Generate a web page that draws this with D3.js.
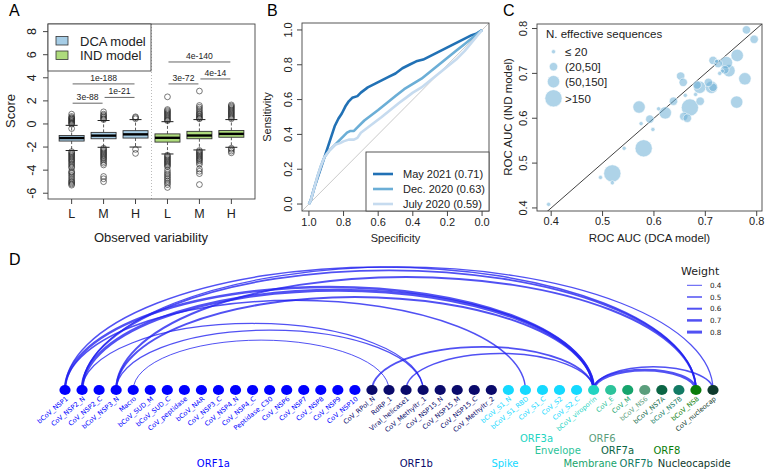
<!DOCTYPE html>
<html><head><meta charset="utf-8">
<script src="https://cdn.jsdelivr.net/npm/d3@7"></script>
<style>body{margin:0;background:#fff}svg{display:block}</style>
</head><body>
<svg id="c" width="767" height="469"></svg>
<script>
// ---------------- DATA ----------------
// Panel A: boxplots
const boxCats = ["L","M","H","L","M","H"];
const boxModel = ["DCA","DCA","DCA","IND","IND","IND"];
const boxQ1 = [-1.48,-1.28,-1.22,-1.57,-1.28,-1.15];
const boxMed = [-1.22,-1.01,-0.90,-1.20,-1.00,-0.86];
const boxQ3 = [-1.00,-0.73,-0.58,-0.86,-0.64,-0.57];
const whiskLo = [-2.30,-2.02,-2.00,-2.60,-2.25,-2.02];
const whiskHi = [-0.12,0.30,0.38,0.20,0.38,0.38];
const outliers = [
  [0.85,0.65,0.55,0.5,0.42,0.35,0.28,0.2,0.12,0.05,-0.02,-0.4,-2.4,-2.5,-2.6,-2.7,-2.8,-2.9,-3.0,-3.1,-3.2,-3.3,-3.45,-3.55,-3.7,-3.8,-4.1,-4.2,-4.3,-4.45,-4.6,-4.75,-4.9,-5.0,-5.1,-5.2,-5.3],
  [1.05,0.85,0.75,0.65,0.55,0.45,0.38,-2.1,-2.2,-2.3,-2.4,-2.5,-2.6,-2.7,-2.8,-2.9,-3.0,-3.1,-3.25,-3.4,-3.55,-4.55,-4.75,-5.0],
  [0.45,0.55,0.62,-2.2,-2.55],
  [2.35,1.25,1.15,1.05,0.95,0.85,0.75,0.65,0.55,0.45,0.35,0.28,-2.7,-2.8,-2.9,-3.0,-3.1,-3.2,-3.3,-3.4,-3.5,-3.6,-3.7,-4.0,-4.2,-4.35,-4.5,-4.65,-4.8,-4.95,-5.1,-5.25,-5.5],
  [2.85,1.6,1.45,1.3,1.15,1.0,0.9,0.8,0.7,0.6,0.5,0.45,-2.3,-2.4,-2.5,-2.6,-2.7,-2.8,-2.9,-3.0,-3.1,-3.2,-3.35,-3.5,-3.9,-4.1,-4.3,-5.25],
  [1.65,1.55,1.45,1.35,1.25,1.15,1.05,0.95,0.85,0.75,0.65,0.55,0.45,-2.1,-2.2,-2.35,-2.5]
];
const sigFrom = [1,1,2,4,4,5];
const sigTo   = [3,2,3,6,5,6];
const sigY    = [3.47,1.8,2.3,5.37,3.47,3.9];
const sigLabel= ["1e-188","3e-88","1e-21","4e-140","3e-72","4e-14"];
const scoreTicks = [-6,-4,-2,0,2,4,6,8];

// Panel B: ROC curves
const rocNames = ["May 2021 (0.71)","Dec. 2020 (0.63)","July 2020 (0.59)"];
const rocSpec = [
  [1,0.99,0.97,0.95,0.93,0.91,0.89,0.87,0.85,0.83,0.81,0.79,0.77,0.75,0.72,0.70,0.66,0.62,0.58,0.54,0.50,0.46,0.42,0.38,0.34,0.30,0.26,0.22,0.18,0.14,0.10,0.06,0.03,0],
  [1,0.99,0.97,0.95,0.93,0.91,0.88,0.85,0.82,0.80,0.78,0.76,0.74,0.72,0.68,0.64,0.60,0.55,0.50,0.45,0.40,0.35,0.30,0.25,0.20,0.15,0.10,0.05,0],
  [1,0.99,0.97,0.95,0.93,0.91,0.88,0.85,0.82,0.80,0.77,0.74,0.72,0.70,0.66,0.62,0.58,0.53,0.48,0.44,0.40,0.35,0.30,0.25,0.20,0.15,0.10,0.05,0]
];
const rocSens = [
  [0,0.02,0.09,0.15,0.21,0.27,0.33,0.39,0.45,0.49,0.52,0.56,0.59,0.61,0.62,0.64,0.67,0.69,0.71,0.73,0.75,0.78,0.80,0.82,0.83,0.85,0.87,0.89,0.91,0.93,0.95,0.97,0.98,1],
  [0,0.02,0.09,0.16,0.22,0.27,0.31,0.34,0.37,0.39,0.41,0.42,0.42,0.44,0.48,0.51,0.54,0.58,0.62,0.66,0.69,0.72,0.76,0.80,0.84,0.88,0.92,0.96,1],
  [0,0.02,0.09,0.16,0.22,0.27,0.31,0.34,0.35,0.36,0.37,0.37,0.38,0.41,0.44,0.47,0.50,0.54,0.58,0.61,0.64,0.67,0.71,0.75,0.79,0.83,0.88,0.94,1]
];
const rocColors = ["#2171b5","#6baed6","#c6dbef"];
const unitTicks = [0,0.2,0.4,0.6,0.8,1.0];

// Panel C: bubbles
const aucDCA = [0.395,0.496,0.519,0.519,0.542,0.580,0.575,0.598,0.571,0.592,0.609,0.622,0.638,0.652,0.657,0.661,0.658,0.665,0.670,0.681,0.684,0.689,0.690,0.712,0.715,0.715,0.722,0.725,0.733,0.738,0.746,0.741,0.762,0.777,0.761,0.780,0.795,0.706,0.728];
const aucIND = [0.408,0.468,0.477,0.456,0.533,0.533,0.588,0.575,0.625,0.598,0.621,0.612,0.638,0.694,0.680,0.651,0.604,0.600,0.624,0.653,0.674,0.669,0.638,0.669,0.669,0.729,0.727,0.722,0.705,0.708,0.706,0.724,0.740,0.688,0.636,0.797,0.776,0.680,0.700];
const neffClass = [0,0,3,0,0,3,0,0,2,1,0,2,1,1,1,0,1,1,3,0,1,2,1,2,1,1,0,1,0,1,2,2,2,2,2,1,1,1,0];
const neffLabels = ["\u2264 20","(20,50]","(50,150]",">150"];
const aucXTicks = [0.4,0.5,0.6,0.7,0.8];
const aucYTicks = [0.4,0.5,0.6,0.7,0.8];

// Panel D: arc diagram
const domains = ["bCoV_NSP1","CoV_NSP2_N","CoV_NSP2_C","bCoV_NSP3_N","Macro","bCoV_SUD_M","bCoV_SUD_C","CoV_peptidase","bCoV_NAR","CoV_NSP3_C","CoV_NSP4_N","CoV_NSP4_C","Peptidase_C30","CoV_NSP6","CoV_NSP7","CoV_NSP8","CoV_NSP9","CoV_NSP10","CoV_RPol_N","RdRP_1","Viral_helicase1","CoV_Methyltr_1","CoV_NSP15_N","CoV_NSP15_M","CoV_NSP15_C","CoV_Methyltr_2","bCoV_S1_N","bCoV_S1_RBD","CoV_S1_C","CoV_S2","CoV_S2_C","bCoV_viroporin","CoV_E","CoV_M","bCoV_NS6","bCoV_NS7A","bCoV_NS7B","bCoV_NS8","CoV_nucleocap"];
const domainGroup = ["ORF1a","ORF1a","ORF1a","ORF1a","ORF1a","ORF1a","ORF1a","ORF1a","ORF1a","ORF1a","ORF1a","ORF1a","ORF1a","ORF1a","ORF1a","ORF1a","ORF1a","ORF1a","ORF1b","ORF1b","ORF1b","ORF1b","ORF1b","ORF1b","ORF1b","ORF1b","Spike","Spike","Spike","Spike","Spike","ORF3a","Envelope","Membrane","ORF6","ORF7a","ORF7b","ORF8","Nucleocapside"];
const groups = ["ORF1a","ORF1b","Spike","ORF3a","Envelope","Membrane","ORF6","ORF7a","ORF7b","ORF8","Nucleocapside"];
const groupColors = ["#0000ff","#0a0a6b","#14d9ff","#22d4c2","#2cc39a","#16a46c","#5b9e7c","#0b6544","#137a64","#0a7d0a","#0f3a2c"];
const edgeFrom = ["bCoV_NSP1","CoV_NSP2_N","bCoV_NSP3_N","bCoV_NSP1","CoV_NSP2_N","bCoV_NSP3_N","bCoV_NSP1","CoV_NSP2_N","bCoV_NSP3_N","Macro","CoV_RPol_N","Viral_helicase1","bCoV_viroporin","bCoV_viroporin","CoV_NSP2_N"];
const edgeTo   = ["bCoV_NS8","bCoV_NS8","bCoV_NS8","bCoV_viroporin","bCoV_viroporin","bCoV_viroporin","bCoV_S1_RBD","CoV_Methyltr_1","CoV_Methyltr_1","RdRP_1","bCoV_viroporin","bCoV_viroporin","bCoV_NS8","CoV_nucleocap","CoV_nucleocap"];
const edgeWeight=[0.5,0.55,0.6,0.7,0.8,0.6,0.5,0.45,0.45,0.4,0.55,0.5,0.75,0.5,0.45];
const weightTicks = [0.4,0.5,0.6,0.7,0.8];

// group label placement (fractional node index, text row)
const groupLabelIdx = [8.7,20.6,25.8,27.65,28.9,30.8,31.5,32.4,33.5,35.3,36.9];
const groupLabelRow = [3,3,3,1,2,3,1,2,3,2,3];

// ---------------- DRAW ----------------
const svg = d3.select("#c");
svg.append("rect").attr("width",767).attr("height",469).attr("fill","#fff");
const RF = "'Liberation Sans', Arial, Helvetica, sans-serif";

function panelLetter(t,x,y){ svg.append("text").attr("x",x).attr("y",y).attr("font-family",RF).attr("font-size",16).attr("fill","#000").text(t); }

// ===== Panel A =====
(function(){
  const L=48,R=255,T=24,B=199;
  const x=d3.scaleLinear().domain([0.26,6.74]).range([L,R]);
  const y=d3.scaleLinear().domain([-6.5,8.66]).range([B,T]);
  const g=svg.append("g");
  // dotted separator
  g.append("line").attr("x1",x(3.5)).attr("x2",x(3.5)).attr("y1",T).attr("y2",B).attr("stroke","#aaa").attr("stroke-dasharray","1,2").attr("stroke-width",0.8);
  const bw=25, cw=12;
  boxCats.forEach((c,i)=>{
    const cx=x(i+1);
    const fill= boxModel[i]==="DCA" ? "#a6cde6" : "#aedb7c";
    // whiskers
    g.append("line").attr("x1",cx).attr("x2",cx).attr("y1",y(boxQ3[i])).attr("y2",y(whiskHi[i])).attr("stroke","#333").attr("stroke-dasharray","3,2").attr("stroke-width",0.8);
    g.append("line").attr("x1",cx).attr("x2",cx).attr("y1",y(boxQ1[i])).attr("y2",y(whiskLo[i])).attr("stroke","#333").attr("stroke-dasharray","3,2").attr("stroke-width",0.8);
    g.append("line").attr("x1",cx-cw/2).attr("x2",cx+cw/2).attr("y1",y(whiskHi[i])).attr("y2",y(whiskHi[i])).attr("stroke","#222").attr("stroke-width",1);
    g.append("line").attr("x1",cx-cw/2).attr("x2",cx+cw/2).attr("y1",y(whiskLo[i])).attr("y2",y(whiskLo[i])).attr("stroke","#222").attr("stroke-width",1);
    g.append("rect").attr("x",cx-bw/2).attr("y",y(boxQ3[i])).attr("width",bw).attr("height",y(boxQ1[i])-y(boxQ3[i])).attr("fill",fill).attr("stroke","#333").attr("stroke-width",0.9);
    g.append("line").attr("x1",cx-bw/2).attr("x2",cx+bw/2).attr("y1",y(boxMed[i])).attr("y2",y(boxMed[i])).attr("stroke","#000").attr("stroke-width",2.4);
    g.selectAll(null).data(outliers[i]).enter().append("circle").attr("cx",cx).attr("cy",d=>y(d)).attr("r",2.9).attr("fill","none").attr("stroke","#222").attr("stroke-width",0.6);
  });
  // significance brackets
  sigLabel.forEach((s,i)=>{
    const x1=x(sigFrom[i])+1, x2=x(sigTo[i])-1, yy=y(sigY[i]);
    g.append("line").attr("x1",x1).attr("x2",x2).attr("y1",yy).attr("y2",yy).attr("stroke","#555").attr("stroke-width",0.9);
    g.append("text").attr("x",(x1+x2)/2).attr("y",yy-3).attr("text-anchor","middle").attr("font-family",RF).attr("font-size",8.6).attr("fill","#222").text(s);
  });
  // box
  g.append("rect").attr("x",L).attr("y",T).attr("width",R-L).attr("height",B-T).attr("fill","none").attr("stroke","#444").attr("stroke-width",0.9);
  // legend
  g.append("rect").attr("x",L).attr("y",T).attr("width",103).attr("height",47).attr("fill","#fff").attr("stroke","#444").attr("stroke-width",0.9);
  [["DCA model","#a6cde6"],["IND model","#aedb7c"]].forEach((d,i)=>{
    const yy=41+i*14.5;
    g.append("rect").attr("x",56).attr("y",yy-4.5).attr("width",12).attr("height",8.5).attr("fill",d[1]).attr("stroke","#333").attr("stroke-width",0.8);
    g.append("text").attr("x",80).attr("y",yy+4.5).attr("font-family",RF).attr("font-size",13).attr("fill","#222").text(d[0]);
  });
  // y axis
  scoreTicks.forEach(t=>{
    g.append("line").attr("x1",L-5).attr("x2",L).attr("y1",y(t)).attr("y2",y(t)).attr("stroke","#444");
    g.append("text").attr("transform",`translate(${L-12},${y(t)}) rotate(-90)`).attr("text-anchor","middle").attr("font-family",RF).attr("font-size",12.5).attr("fill","#222").text(t);
  });
  boxCats.forEach((c,i)=>{
    g.append("line").attr("x1",x(i+1)).attr("x2",x(i+1)).attr("y1",B).attr("y2",B+5).attr("stroke","#444");
    g.append("text").attr("x",x(i+1)).attr("y",218).attr("text-anchor","middle").attr("font-family",RF).attr("font-size",12.5).attr("fill","#222").text(c);
  });
  g.append("text").attr("x",151).attr("y",242).attr("text-anchor","middle").attr("font-family",RF).attr("font-size",13).attr("fill","#222").text("Observed variability");
  g.append("text").attr("transform",`translate(15,111) rotate(-90)`).attr("text-anchor","middle").attr("font-family",RF).attr("font-size",13).attr("fill","#222").text("Score");
  panelLetter("A",9,16);
})();

// ===== Panel B =====
(function(){
  const L=302,R=489,T=23,B=211;
  const x=d3.scaleLinear().domain([1.04,-0.04]).range([L,R]);
  const y=d3.scaleLinear().domain([-0.04,1.04]).range([B,T]);
  const g=svg.append("g");
  svg.append("clipPath").attr("id","clipB").append("rect").attr("x",L).attr("y",T).attr("width",R-L).attr("height",B-T);
  g.append("line").attr("clip-path","url(#clipB)").attr("x1",x(1.04)).attr("y1",y(-0.04)).attr("x2",x(-0.04)).attr("y2",y(1.04)).attr("stroke","#bbb").attr("stroke-width",0.8);
  const line=d3.line().x(d=>x(d[0])).y(d=>y(d[1]));
  rocNames.forEach((n,k)=>{
    const pts=rocSpec[k].map((s,j)=>[s,rocSens[k][j]]);
    g.append("path").attr("d",line(pts)).attr("fill","none").attr("stroke",rocColors[k]).attr("stroke-width",2.6).attr("stroke-linejoin","round");
  });
  g.append("rect").attr("x",L).attr("y",T).attr("width",R-L).attr("height",B-T).attr("fill","none").attr("stroke","#444").attr("stroke-width",0.9);
  // legend
  g.append("rect").attr("x",366).attr("y",152).attr("width",R-366).attr("height",B-152).attr("fill","#fff").attr("stroke","#444").attr("stroke-width",0.9);
  rocNames.forEach((n,k)=>{
    const yy=174+k*15;
    g.append("line").attr("x1",373).attr("x2",393).attr("y1",yy).attr("y2",yy).attr("stroke",rocColors[k]).attr("stroke-width",2.6);
    g.append("text").attr("x",403).attr("y",yy+4).attr("font-family",RF).attr("font-size",11).attr("fill","#222").text(n);
  });
  unitTicks.forEach(t=>{
    g.append("line").attr("x1",L-5).attr("x2",L).attr("y1",y(t)).attr("y2",y(t)).attr("stroke","#444");
    g.append("text").attr("transform",`translate(${L-10},${y(t)}) rotate(-90)`).attr("text-anchor","middle").attr("font-family",RF).attr("font-size",11).attr("fill","#222").text(t.toFixed(1));
    g.append("line").attr("x1",x(t)).attr("x2",x(t)).attr("y1",B).attr("y2",B+5).attr("stroke","#444");
    g.append("text").attr("x",x(t)).attr("y",225.5).attr("text-anchor","middle").attr("font-family",RF).attr("font-size",11).attr("fill","#222").text(t.toFixed(1));
  });
  g.append("text").attr("x",(L+R)/2).attr("y",242).attr("text-anchor","middle").attr("font-family",RF).attr("font-size",11).attr("fill","#222").text("Specificity");
  g.append("text").attr("transform",`translate(271,117) rotate(-90)`).attr("text-anchor","middle").attr("font-family",RF).attr("font-size",11).attr("fill","#222").text("Sensitivity");
  panelLetter("B",267,16);
})();

// ===== Panel C =====
(function(){
  const L=537,R=762,T=24,B=211;
  const x=d3.scaleLinear().domain([0.3724,0.8103]).range([L,R]);
  const y=d3.scaleLinear().domain([0.3932,0.8101]).range([B,T]);
  const rad=[2.1,4.2,6.2,8.6];
  const g=svg.append("g");
  svg.append("clipPath").attr("id","clipC").append("rect").attr("x",L).attr("y",T).attr("width",R-L).attr("height",B-T);
  g.append("line").attr("clip-path","url(#clipC)").attr("x1",x(0.3)).attr("y1",y(0.3)).attr("x2",x(0.9)).attr("y2",y(0.9)).attr("stroke","#111").attr("stroke-width",0.8);
  const pts=aucDCA.map((v,i)=>({x:v,y:aucIND[i],c:neffClass[i]})).sort((a,b)=>b.c-a.c);
  g.selectAll(null).data(pts).enter().append("circle").attr("cx",d=>x(d.x)).attr("cy",d=>y(d.y)).attr("r",d=>rad[d.c])
    .attr("fill","rgba(107,174,214,0.55)").attr("stroke","rgba(255,255,255,0.8)").attr("stroke-width",0.7);
  g.append("rect").attr("x",L).attr("y",T).attr("width",R-L).attr("height",B-T).attr("fill","none").attr("stroke","#444").attr("stroke-width",0.9);
  g.append("text").attr("x",546).attr("y",37.5).attr("font-family",RF).attr("font-size",11.5).attr("fill","#222").text("N. effective sequences");
  neffLabels.forEach((n,k)=>{
    const yy=[51.7,66.7,81.7,98.3][k];
    g.append("circle").attr("cx",553.5).attr("cy",yy).attr("r",rad[k]).attr("fill","rgba(107,174,214,0.55)").attr("stroke","rgba(255,255,255,0.8)").attr("stroke-width",0.7);
    g.append("text").attr("x",565).attr("y",yy+4.2).attr("font-family",RF).attr("font-size",11.5).attr("fill","#222").text(n);
  });
  aucYTicks.forEach(t=>{
    g.append("line").attr("x1",L-5).attr("x2",L).attr("y1",y(t)).attr("y2",y(t)).attr("stroke","#444");
    g.append("text").attr("transform",`translate(${L-10},${y(t)}) rotate(-90)`).attr("text-anchor","middle").attr("font-family",RF).attr("font-size",11).attr("fill","#222").text(t.toFixed(1));
  });
  aucXTicks.forEach(t=>{
    g.append("line").attr("x1",x(t)).attr("x2",x(t)).attr("y1",B).attr("y2",B+5).attr("stroke","#444");
    g.append("text").attr("x",x(t)).attr("y",224.5).attr("text-anchor","middle").attr("font-family",RF).attr("font-size",11).attr("fill","#222").text(t.toFixed(1));
  });
  g.append("text").attr("x",(L+R)/2).attr("y",241.5).attr("text-anchor","middle").attr("font-family",RF).attr("font-size",11.5).attr("fill","#222").text("ROC AUC (DCA model)");
  g.append("text").attr("transform",`translate(512,117) rotate(-90)`).attr("text-anchor","middle").attr("font-family",RF).attr("font-size",11.5).attr("fill","#222").text("ROC AUC (IND model)");
  panelLetter("C",503,16);
})();

// ===== Panel D =====
(function(){
  const DF="'DejaVu Sans', Verdana, sans-serif";
  const ny=390;
  const x=d3.scalePoint().domain(domains).range([65,713]);
  const step=x.step();
  const col=d3.scaleOrdinal().domain(groups).range(groupColors);
  const wScale=d3.scaleLinear().domain([0.4,0.8]).range([1,3]);
  const ratio=0.39;
  const g=svg.append("g");
  edgeFrom.forEach((s,i)=>{
    const x1=x(s), x2=x(edgeTo[i]);
    const a=(x2-x1)/2, h=a*ratio;
    g.append("path").attr("d",`M${x1},${ny} A${a},${h} 0 0,1 ${x2},${ny}`).attr("fill","none")
      .attr("stroke","#2020f0").attr("stroke-opacity",0.78).attr("stroke-width",wScale(edgeWeight[i]));
  });
  domains.forEach((d,i)=>{
    g.append("ellipse").attr("cx",x(d)).attr("cy",ny).attr("rx",5.6).attr("ry",5.1).attr("fill",col(domainGroup[i]));
    g.append("text").attr("transform",`translate(${x(d)+3.5},${ny+9.5}) rotate(-40)`).attr("text-anchor","end")
      .attr("font-family",DF).attr("font-size",6.6).attr("fill",col(domainGroup[i])).text(d);
  });
  const rowY=[0,442,454,466.5];
  groups.forEach((gname,k)=>{
    const lx=65+groupLabelIdx[k]*step;
    g.append("text").attr("x",lx).attr("y",rowY[groupLabelRow[k]]).attr("text-anchor","middle")
      .attr("font-family",DF).attr("font-size",10).attr("fill",col(gname)).text(gname);
  });
  // weight legend
  g.append("text").attr("x",681).attr("y",275).attr("font-family",DF).attr("font-size",11).attr("fill","#222").text("Weight");
  weightTicks.forEach((w,k)=>{
    const yy=285.3+k*11.7;
    g.append("line").attr("x1",687).attr("x2",702).attr("y1",yy).attr("y2",yy).attr("stroke","#2020f0").attr("stroke-opacity",0.78).attr("stroke-width",wScale(w));
    g.append("text").attr("x",710).attr("y",yy+2.6).attr("font-family",DF).attr("font-size",7.2).attr("fill","#222").text(w.toFixed(1));
  });
  panelLetter("D",9,265);
})();
</script>
</body></html>
